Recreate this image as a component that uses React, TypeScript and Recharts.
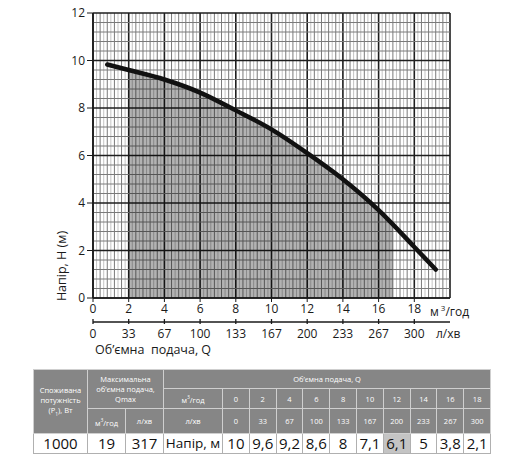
import React from 'react';
import { ComposedChart, Line, Area, XAxis, YAxis, ReferenceLine } from 'recharts';

// pump curve: flow (m³/h) -> head (m)
const flowM3 = [0.8, 2, 4, 6, 8, 10, 12, 14, 16, 18, 19.2];
const headM = [9.83, 9.6, 9.2, 8.65, 7.9, 7.1, 6.1, 5.0, 3.7, 2.15, 1.2];

// shaded working range
const shadeFlow = [2, 4, 6, 8, 10, 12, 14, 16, 16.8];
const shadeHead = [9.6, 9.2, 8.65, 7.9, 7.1, 6.1, 5.0, 3.7, 3.05];

const m3Ticks = [0, 2, 4, 6, 8, 10, 12, 14, 16, 18];
const lpmLabels = ['0', '33', '67', '100', '133', '167', '200', '233', '267', '300'];
const headTicks = [0, 2, 4, 6, 8, 10, 12];

// table under the chart
const tableM3 = ['0', '2', '4', '6', '8', '10', '12', '14', '16', '18'];
const tableLpm = ['0', '33', '67', '100', '133', '167', '200', '233', '267', '300'];
const tableHead = ['10', '9,6', '9,2', '8,6', '8', '7,1', '6,1', '5', '3,8', '2,1'];
const powerW = '1000';
const qmaxM3 = '19';
const qmaxLpm = '317';
const highlightIdx = 6;

const curveData = flowM3.map((q, i) => ({ q, h: headM[i] }));
const shadeData = shadeFlow.map((q, i) => ({ q, h: shadeHead[i] }));

// grid steps
const gridX = Array.from({ length: 101 }, (_, i) => i / 5);
const gridY = Array.from({ length: 31 }, (_, i) => (i * 2) / 5);

const FONT = '"Open Sans", "DejaVu Sans", sans-serif';
const INK = '#1a1a1a';

function LpmTick({ x, y, payload }: any) {
  const i = m3Ticks.indexOf(payload.value);
  return (
    <g>
      <line x1={x} x2={x} y1={y - 3} y2={y + 2} stroke={INK} strokeWidth={1.3} />
      <text x={x} y={y + 16} textAnchor="middle" fontSize={12} fill={INK} fontFamily={FONT}>
        {lpmLabels[i]}
      </text>
    </g>
  );
}

function lineStyle(v: number, step: number) {
  const r = Math.round(v * 5);
  if (r % 10 === 0) return { stroke: '#1e1e1e', w: 1.6 };
  if (step === 0.2 && r % 2 === 1) return { stroke: '#c4c4c4', w: 1 };
  return { stroke: '#7a7a7a', w: 1 };
}

const th: React.CSSProperties = {
  background: '#868686',
  color: '#fff',
  border: '1px solid #cfcfcf',
  fontSize: 7.5,
  lineHeight: '10px',
  textAlign: 'center',
  padding: 0,
  fontFamily: FONT,
  overflow: 'hidden',
};

const td: React.CSSProperties = {
  border: '1px solid #b0b0b0',
  borderTop: 'none',
  fontSize: 15,
  lineHeight: '19px',
  textAlign: 'center',
  padding: 0,
  color: '#111',
  fontFamily: FONT,
  whiteSpace: 'nowrap',
  overflow: 'hidden',
};

export default function App() {
  return (
    <div style={{ position: 'absolute', left: 0, top: 0, width: 512, height: 457, background: '#fff', fontFamily: FONT }}>
      <ComposedChart width={512} height={360} margin={{ top: 13, right: 62, left: 0, bottom: 8 }}>
        {gridX.map((v) => {
          const s = lineStyle(v, 0.2);
          return <ReferenceLine key={'x' + v} x={v} stroke={s.stroke} strokeWidth={s.w} zIndex={-100} />;
        })}
        {gridY.map((v) => {
          const s = lineStyle(v, 0.4);
          return <ReferenceLine key={'y' + v} y={v} stroke={s.stroke} strokeWidth={s.w} zIndex={-100} />;
        })}
        <XAxis
          dataKey="q"
          type="number"
          domain={[0, 20]}
          ticks={m3Ticks}
          height={24}
          tickSize={4}
          tickMargin={2}
          tick={{ fontSize: 12, fill: INK, fontFamily: FONT }}
          stroke={INK}
          axisLine={{ stroke: INK, strokeWidth: 1.6 }}
          allowDataOverflow
        />
        <XAxis
          xAxisId="lpm"
          dataKey="q"
          type="number"
          domain={[0, 20]}
          ticks={m3Ticks}
          height={30}
          tickSize={0}
          tickMargin={0}
          tickLine={false}
          tick={<LpmTick />}
          stroke={INK}
          axisLine={{ stroke: INK, strokeWidth: 1.6 }}
          allowDataOverflow
        />
        <YAxis
          type="number"
          domain={[0, 12]}
          ticks={headTicks}
          width={93}
          tickSize={6}
          tickMargin={2}
          tick={{ fontSize: 12, fill: INK, fontFamily: FONT }}
          stroke={INK}
          axisLine={{ stroke: INK, strokeWidth: 1.6 }}
          allowDataOverflow
        />
        <Area
          data={shadeData}
          dataKey="h"
          type="monotone"
          stroke="none"
          fill="#000"
          fillOpacity={0.3}
          isAnimationActive={false}
        />
        {/* invisible copy so the l/min axis has a series bound to it */}
        <Line
          xAxisId="lpm"
          data={curveData}
          dataKey="h"
          stroke="transparent"
          strokeWidth={0}
          dot={false}
          activeDot={false}
          legendType="none"
          isAnimationActive={false}
        />
        <Line
          data={curveData}
          dataKey="h"
          type="monotone"
          stroke="#111"
          strokeWidth={4.5}
          strokeLinecap="round"
          dot={false}
          activeDot={false}
          isAnimationActive={false}
        />
      </ComposedChart>

      <div style={{ position: 'absolute', left: 430, top: 300, fontSize: 12, color: INK, whiteSpace: 'nowrap', lineHeight: '16px' }}>
        м<sup style={{ fontSize: 8, marginLeft: 2 }}>3</sup>/год
      </div>
      <div style={{ position: 'absolute', left: 436, top: 326, fontSize: 12, color: INK, whiteSpace: 'nowrap', lineHeight: '16px' }}>
        л/хв
      </div>
      <div style={{ position: 'absolute', left: 95, top: 342, fontSize: 12.5, color: INK, whiteSpace: 'nowrap', lineHeight: '16px' }}>
        Об’ємна&nbsp; подача, Q
      </div>
      <div
        style={{
          position: 'absolute',
          left: 62,
          top: 266,
          fontSize: 12.5,
          color: INK,
          whiteSpace: 'nowrap',
          lineHeight: '16px',
          transform: 'translate(-50%, -50%) rotate(-90deg)',
        }}
      >
        Напір, Н (м)
      </div>

      <table
        style={{
          position: 'absolute',
          left: 33,
          top: 369,
          width: 457,
          borderCollapse: 'collapse',
          tableLayout: 'fixed',
        }}
      >
        <colgroup>
          <col style={{ width: 54 }} />
          <col style={{ width: 38 }} />
          <col style={{ width: 38 }} />
          <col style={{ width: 59 }} />
          {tableM3.map((v) => (
            <col key={v} style={{ width: 26.8 }} />
          ))}
        </colgroup>
        <tbody>
          <tr style={{ height: 19 }}>
            <td rowSpan={3} style={th}>
              Споживана
              <br />
              потужність
              <br />
              (P<sub style={{ fontSize: 5 }}>1</sub>), Вт
            </td>
            <td colSpan={2} rowSpan={2} style={th}>
              Максимальна
              <br />
              об’ємна подача,
              <br />
              Qmax
            </td>
            <td colSpan={11} style={th}>
              Об’ємна подача, Q
            </td>
          </tr>
          <tr style={{ height: 20 }}>
            <td style={th}>
              м<sup style={{ fontSize: 5 }}>3</sup>/год
            </td>
            {tableM3.map((v) => (
              <td key={v} style={th}>
                {v}
              </td>
            ))}
          </tr>
          <tr style={{ height: 25 }}>
            <td style={th}>
              м<sup style={{ fontSize: 5 }}>3</sup>/год
            </td>
            <td style={th}>л/хв</td>
            <td style={th}>л/хв</td>
            {tableLpm.map((v) => (
              <td key={v} style={th}>
                {v}
              </td>
            ))}
          </tr>
          <tr style={{ height: 20 }}>
            <td style={td}>{powerW}</td>
            <td style={td}>{qmaxM3}</td>
            <td style={td}>{qmaxLpm}</td>
            <td style={{ ...td, fontSize: 13.5 }}>Напір, м</td>
            {tableHead.map((v, i) => (
              <td key={i} style={{ ...td, background: i === highlightIdx ? '#c4c4c4' : '#fff' }}>
                {v}
              </td>
            ))}
          </tr>
        </tbody>
      </table>
    </div>
  );
}
